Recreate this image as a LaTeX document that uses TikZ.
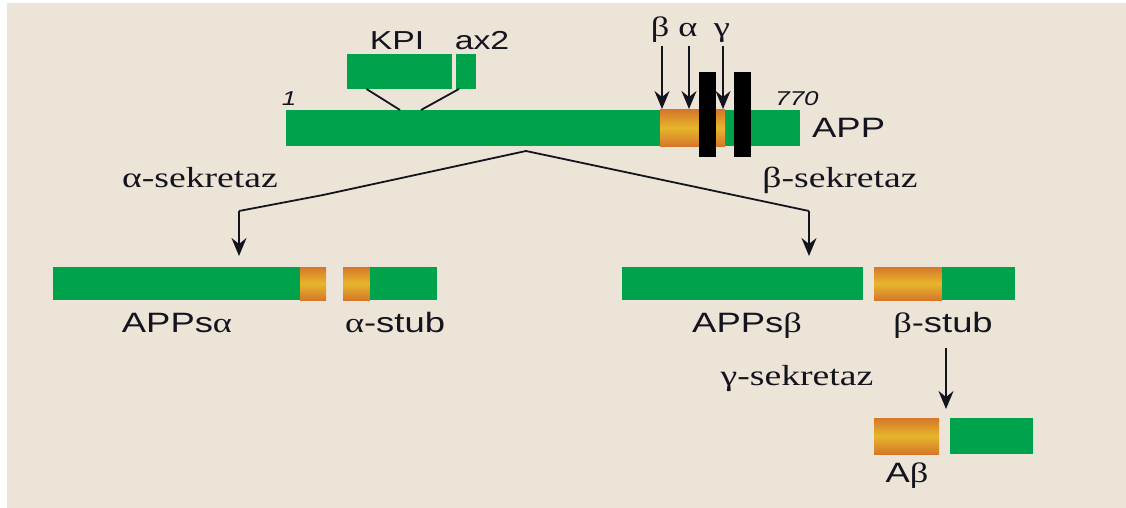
\documentclass[tikz,border=0pt]{standalone}
\usepackage{fontspec}
\setmainfont{Liberation Sans}[FakeStretch=1.3]
\newfontfamily\gkfont{Liberation Serif}[FakeStretch=1.3]
\usetikzlibrary{arrows.meta}
\definecolor{bg}{HTML}{EDE4D8}
\definecolor{gr}{HTML}{00A34B}
\definecolor{orA}{HTML}{D6772A}
\definecolor{orB}{HTML}{E6B62B}
\definecolor{ink}{HTML}{14141E}
\tikzset{
  bar/.style={inner sep=0pt, outer sep=0pt, draw=none, minimum height=#1},
  gbar/.style={bar=#1, fill=gr},
  obar/.style={bar=#1, top color=orA, bottom color=orA, middle color=orB},
  kbar/.style={bar=#1, fill=black},
  lab/.style={anchor=base, inner sep=0pt, text=ink, font=\fontsize{28}{30}\selectfont},
  sek/.style={anchor=base, inner sep=0pt, text=ink, font=\gkfont\fontsize{29}{30}\selectfont},
  gklab/.style={anchor=base, inner sep=0pt, text=ink, font=\gkfont\fontsize{28}{30}\selectfont},
  numlab/.style={anchor=base, inner sep=0pt, text=ink, font=\itshape\fontsize{20}{22}\selectfont},
  conn/.style={draw=ink, line width=1.8pt},
  arr/.style={draw=ink, line width=2pt, -{Stealth[length=18pt,width=15pt,inset=6pt]}},
}
\begin{document}
\begin{tikzpicture}[x=1pt,y=-1pt]
\useasboundingbox (0,0) rectangle (1126,508);
\fill[white] (0,0) rectangle (1126,508);
\fill[bg] (7,3) rectangle (1126,508);

% main APP bar
\node[gbar=36pt, minimum width=514pt] (app) at (543,128) {};
\node[obar=36pt, minimum width=65pt] (appor) at (692.5,128) {};
\node[kbar=85pt, minimum width=17pt] (tm1) at (707.5,114.5) {};
\node[kbar=85pt, minimum width=17pt] (tm2) at (742.5,114.5) {};

% KPI / ax2 insert
\node[gbar=35pt, minimum width=105pt] (kpi) at (399.5,71.5) {};
\node[gbar=35pt, minimum width=20pt] (ax2) at (466,71.5) {};
\coordinate (ins1) at (400,110);
\coordinate (ins2) at (421,110);
\draw[conn] ([xshift=-33pt]kpi.south) -- (ins1);
\draw[conn] ([xshift=-7pt]ax2.south) -- (ins2);
\node[lab, font=\fontsize{26}{28}\selectfont] (kpil) at (397,50) {KPI};
\node[lab, font=\fontsize{26}{28}\selectfont] (ax2l) at (482,50) {ax2};

% cleavage arrows
\node[gklab] (bl) at (660,37) {β};
\node[gklab] (al) at (688,37) {α};
\node[gklab] (gl) at (722,37) {γ};
\coordinate (bt) at (662,109);
\coordinate (at) at (689,109);
\coordinate (gt) at (723,109);
\draw[arr] (662,46) -- (bt);
\draw[arr] (689,46) -- (at);
\draw[arr] (723,46) -- (gt);

\node[numlab] (n1) at (289,106) {1};
\node[numlab] (n770) at (797,106) {770};
\node[lab, anchor=base west] (appl) at (812,137) {APP};

% split
\coordinate (apex) at (526,151);
\coordinate (lk) at (323,195);
\coordinate (lc) at (239,211);
\coordinate (rc) at (809,211);
\coordinate (la) at (239,256);
\coordinate (ra) at (809,256);
\draw[conn] (apex) -- (lk) -- (lc);
\draw[arr] (lc) -- (la);
\draw[conn] (apex) -- (rc);
\draw[arr] (rc) -- (ra);
\node[sek] (asek) at (200,187) {α-sekretaz};
\node[sek] (bsek) at (840,187) {β-sekretaz};

% alpha products
\node[gbar=33pt, minimum width=247pt] (appsa) at (176.5,283.5) {};
\node[obar=33pt, minimum width=26pt] (appsao) at (313,283.5) {};
\node[obar=33pt, minimum width=27pt] (astubo) at (356.5,283.5) {};
\node[gbar=33pt, minimum width=67pt] (astubg) at (403.5,283.5) {};
\node[lab] (appsal) at (177,332) {APPs{\gkfont α}};
\node[lab] (astubl) at (395,332) {{\gkfont α}-stub};

% beta products
\node[gbar=33pt, minimum width=241pt] (appsb) at (742.5,283.5) {};
\node[obar=33pt, minimum width=68pt] (bstubo) at (908,283.5) {};
\node[gbar=33pt, minimum width=73pt] (bstubg) at (978.5,283.5) {};
\node[lab] (appsbl) at (747,332) {APPs{\gkfont β}};
\node[lab] (bstubl) at (943,332) {{\gkfont β}-stub};

% gamma
\node[sek] (gsek) at (797,385) {γ-sekretaz};
\coordinate (gs) at (946,348);
\coordinate (ge) at (946,409);
\draw[arr] (gs) -- (ge);
\node[obar=36pt, minimum width=65pt] (abo) at (906.5,436) {};
\node[gbar=36pt, minimum width=83pt] (abg) at (991.5,436) {};
\node[lab] (abl) at (907,482) {A{\gkfont β}};
\end{tikzpicture}
\end{document}
